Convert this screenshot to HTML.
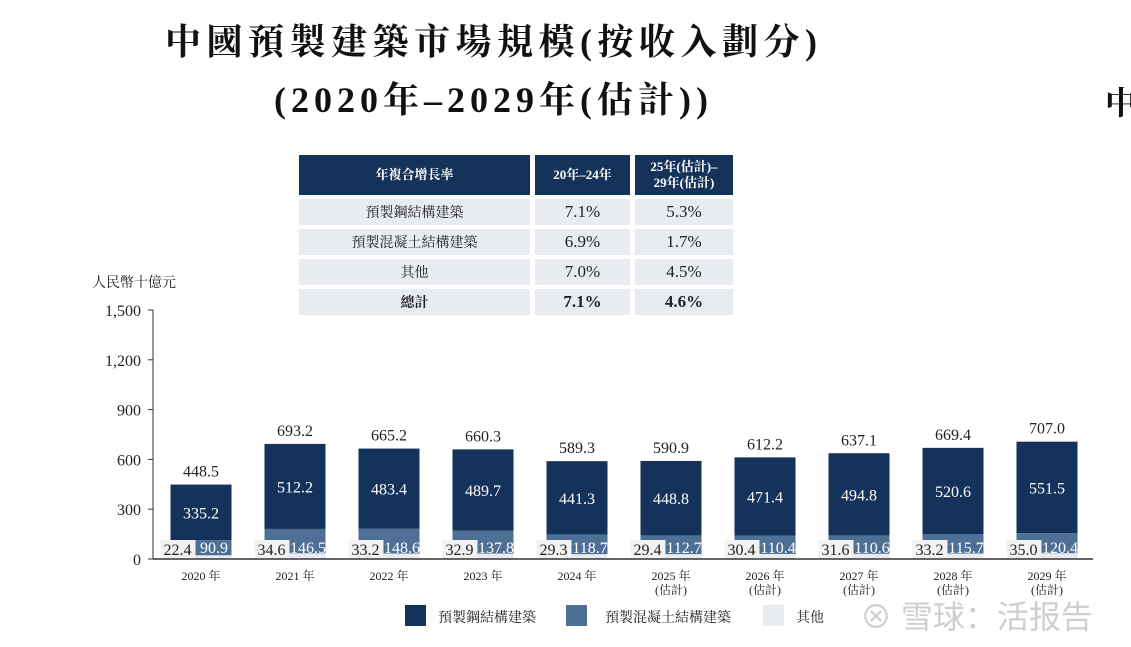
<!DOCTYPE html>
<html><head><meta charset="utf-8"><style>
body{margin:0;width:1131px;height:647px;background:#fff;overflow:hidden;position:relative;font-family:"Liberation Serif","Noto Serif CJK SC",serif;}
.t{position:absolute;white-space:nowrap;}
table{position:absolute;left:294px;top:151px;border-collapse:separate;border-spacing:5px 4px;font-size:14px;color:#222;}
td{background:#e8ebef;text-align:center;height:26px;padding:0;}
th{background:#15325a;color:#fff;font-weight:bold;font-size:13px;height:40px;padding:0;line-height:16px;}
</style></head><body>
<div class="t" style="left:165px;top:14px;font-size:36px;font-weight:bold;letter-spacing:5.5px;color:#111;">中國預製建築市場規模(按收入劃分)</div>
<div class="t" style="left:274px;top:72px;font-size:36px;font-weight:bold;letter-spacing:5px;color:#111;">(2020年–2029年(估計))</div>
<div class="t" style="left:1105px;top:78px;font-size:32px;font-weight:bold;color:#111;">中</div>
<table>
<tr><th style="width:231px">年複合增長率</th><th style="width:95px">20年–24年</th><th style="width:98px">25年(估計)–<br>29年(估計)</th></tr>
<tr><td>預製鋼結構建築</td><td style="font-size:17px">7.1%</td><td style="font-size:17px">5.3%</td></tr>
<tr><td>預製混凝土結構建築</td><td style="font-size:17px">6.9%</td><td style="font-size:17px">1.7%</td></tr>
<tr><td>其他</td><td style="font-size:17px">7.0%</td><td style="font-size:17px">4.5%</td></tr>
<tr><td style="font-weight:bold">總計</td><td style="font-size:17px;font-weight:bold">7.1%</td><td style="font-size:17px;font-weight:bold">4.6%</td></tr>
</table>
<div class="t" style="left:92px;top:272px;font-size:14px;color:#222;">人民幣十億元</div>
<svg id="ch" width="1131" height="647" style="position:absolute;left:0;top:0;"></svg>
<div>
<div class="t" style="left:405px;top:605px;width:21px;height:21px;background:#15325a"></div>
<div class="t" style="left:438px;top:607px;font-size:14px;color:#222">預製鋼結構建築</div>
<div class="t" style="left:566px;top:605px;width:21px;height:21px;background:#4f7095"></div>
<div class="t" style="left:605px;top:607px;font-size:14px;color:#222">預製混凝土結構建築</div>
<div class="t" style="left:763px;top:605px;width:21px;height:21px;background:#e8ebef"></div>
<div class="t" style="left:796px;top:607px;font-size:14px;color:#222">其他</div>
</div>
<div class="t" style="left:860px;top:592px;font-size:32px;color:#cfcfcf;font-family:'Liberation Sans','Noto Sans CJK SC',sans-serif">⊗ 雪球：活报告</div>
<script>
const categories=["2020 年","2021 年","2022 年","2023 年","2024 年","2025 年","2026 年","2027 年","2028 年","2029 年"];
const estimated=[false,false,false,false,false,true,true,true,true,true];
const steel=[335.2,512.2,483.4,489.7,441.3,448.8,471.4,494.8,520.6,551.5];
const concrete=[90.9,146.5,148.6,137.8,118.7,112.7,110.4,110.6,115.7,120.4];
const other=[22.4,34.6,33.2,32.9,29.3,29.4,30.4,31.6,33.2,35.0];
const totals=["448.5","693.2","665.2","660.3","589.3","590.9","612.2","637.1","669.4","707.0"];
const yTicks=[0,300,600,900,1200,1500];
const yTickLabels=["0","300","600","900","1,200","1,500"];
const svg=document.getElementById('ch');const NS='http://www.w3.org/2000/svg';
const y0=559,pxPer=249/1500;
function y(v){return y0-v*pxPer;}
function x(i){return 201+i*94;}
function mk(tag,a,txt){const e=document.createElementNS(NS,tag);for(const k in a)e.setAttribute(k,a[k]);if(txt!=null)e.textContent=txt;svg.appendChild(e);return e;}
const ax=mk('line',{x1:153,y1:310,x2:153,y2:y0,stroke:'#333','stroke-width':1});


yTicks.forEach((v,i)=>{
 const t=mk('text',{x:141,y:y(v)+6,'text-anchor':'end','font-size':16,fill:'#222','font-family':'Liberation Serif'},yTickLabels[i]);
 
 
 const tk=mk('line',{x1:148,x2:153,y1:y(v),y2:y(v),stroke:'#333'});
 
 
});
const W=61;
categories.forEach((c,i)=>{
 const cx=x(i),l=cx-W/2;
 const o=other[i],cc=concrete[i],s=steel[i];
 const r1=mk('rect',{x:l,y:y(o),width:W,height:o*pxPer,fill:'#e8ebef'});
 
 
 const r2=mk('rect',{x:l,y:y(o+cc),width:W,height:cc*pxPer,fill:'#4f7095'});
 
 
 const r3=mk('rect',{x:l,y:y(o+cc+s),width:W,height:s*pxPer,fill:'#15325a'});
 
 
 const sl=mk('text',{x:cx,y:(y(o+cc)+y(o+cc+s))/2+6,'text-anchor':'middle','font-size':16,fill:'#fff'},s.toFixed(1));
 
 
 const bx=mk('rect',{x:l-10,y:y0-19,width:35,height:19,fill:'#f2f2f2'});
 
 
 const ol=mk('text',{x:l+7,y:y0-4,'text-anchor':'middle','font-size':16,fill:'#222'},o.toFixed(1));
 
 
 const cl=mk('text',{x:cx+13,y:y0-6,'text-anchor':'middle','font-size':16,fill:'#fff'},cc.toFixed(1));
 
 
 const tl=mk('text',{x:cx,y:y(o+cc+s)-8,'text-anchor':'middle','font-size':16,fill:'#222'},totals[i]);
 
 
 const xl=mk('text',{x:cx,y:580,'text-anchor':'middle','font-size':12,fill:'#222','font-family':'Liberation Serif, Noto Serif CJK SC, serif'},c);
 
 
 if(estimated[i]){
  const el=mk('text',{x:cx,y:594,'text-anchor':'middle','font-size':12,fill:'#222','font-family':'Liberation Serif, Noto Serif CJK SC, serif'},'(估計)');
  
  
 }
});
const xa=mk('line',{x1:153,y1:y0,x2:1093,y2:y0,stroke:'#333','stroke-width':1.5});


</script>
</body></html>
